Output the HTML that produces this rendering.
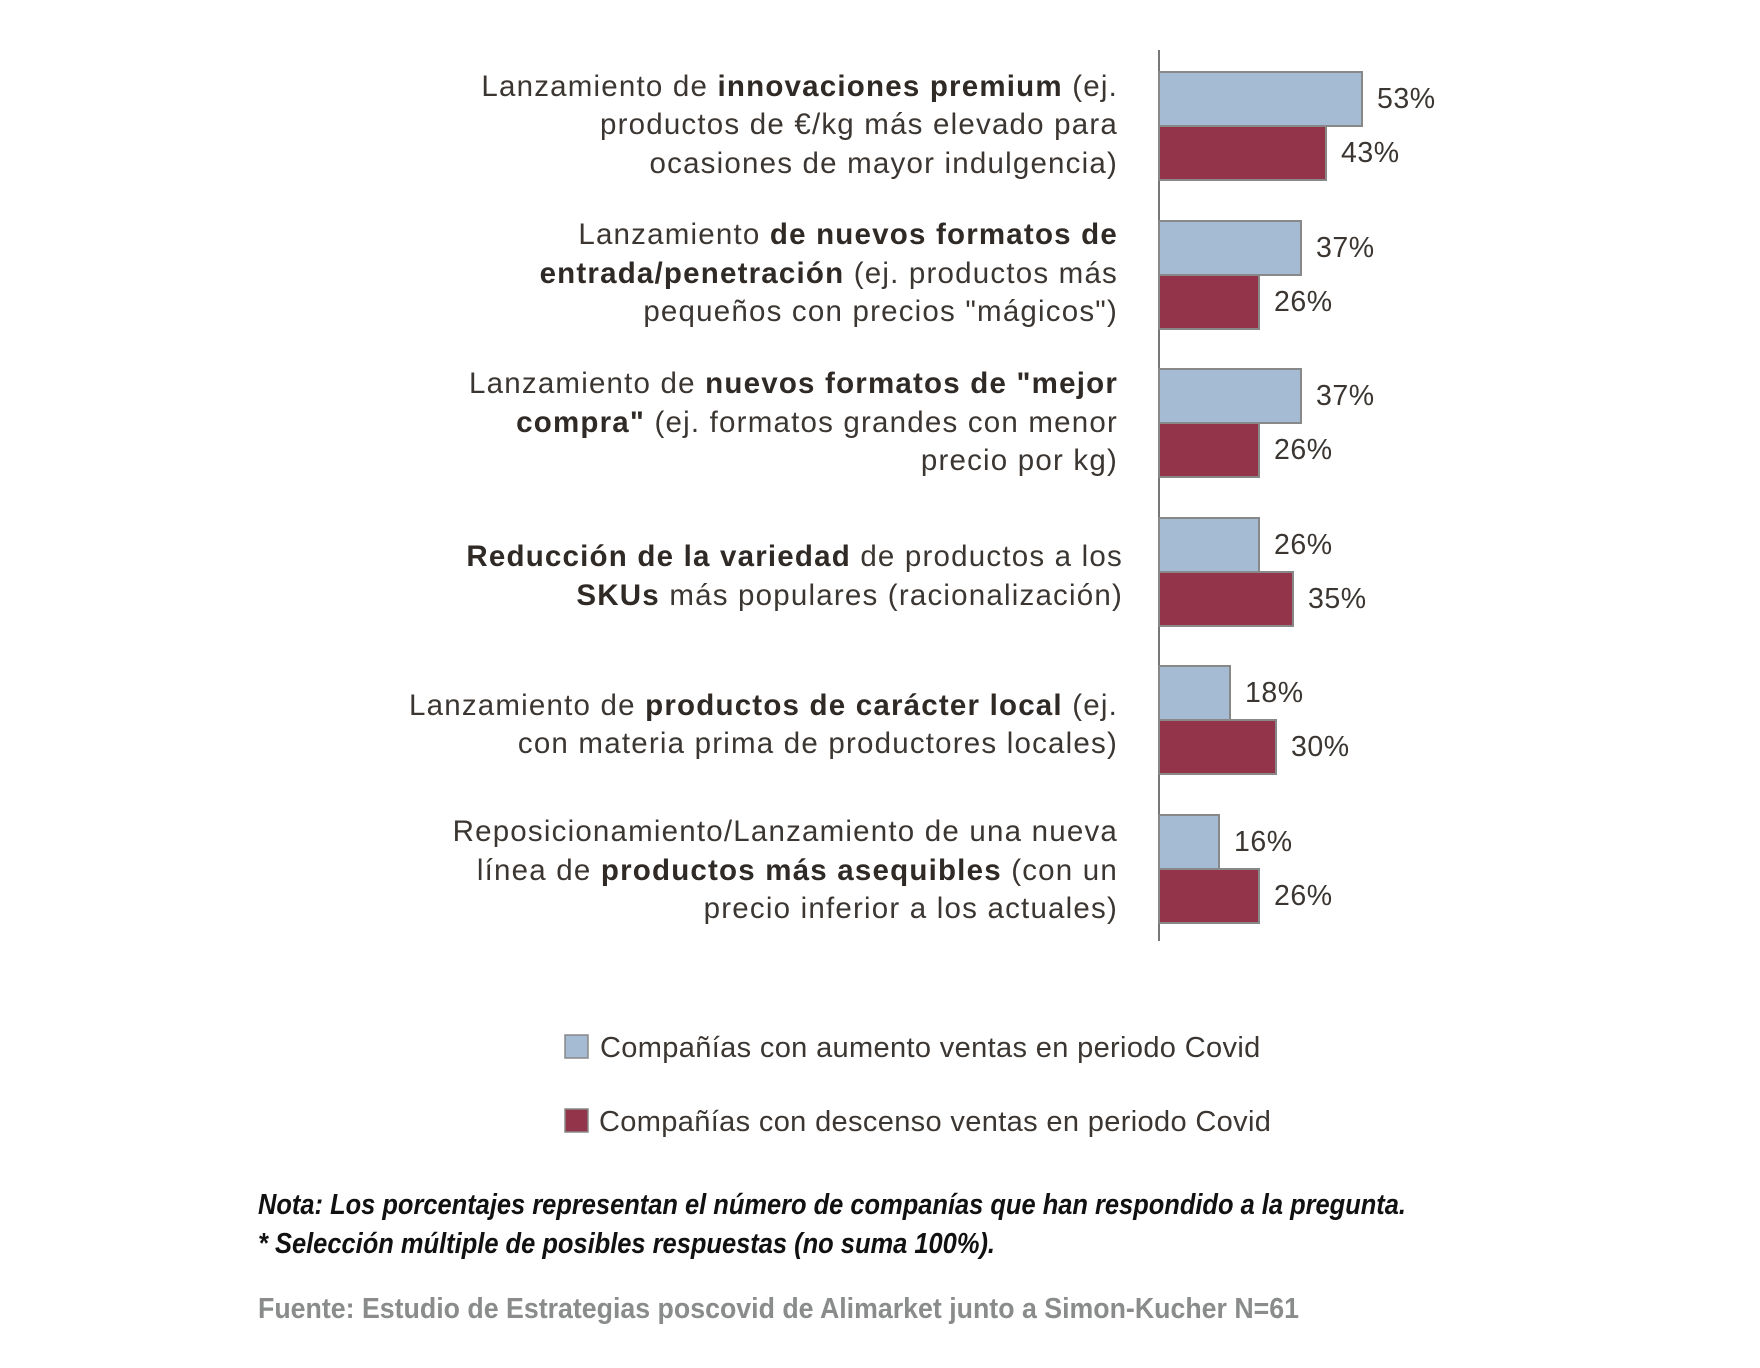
<!DOCTYPE html>
<html><head><meta charset="utf-8"><style>
body{margin:0;background:#fff;width:1760px;height:1368px;overflow:hidden}
svg{display:block}
.c{font-family:"Liberation Sans",Arial,sans-serif;font-size:29.5px;fill:#3b3631;letter-spacing:1.2px}
.b{font-weight:bold;fill:#2f2a26}
.l{font-family:"Liberation Sans",Arial,sans-serif;font-size:29px;fill:#3b3631;letter-spacing:0.35px}
.v{font-family:"Liberation Sans",Arial,sans-serif;font-size:28.5px;fill:#3b3631;letter-spacing:0.5px}
.n{font-family:"Liberation Sans Narrow","Liberation Sans",sans-serif;font-weight:bold;font-style:italic;font-size:29px;fill:#111}
.f{font-family:"Liberation Sans Narrow","Liberation Sans",sans-serif;font-weight:bold;font-size:29px;fill:#8a8c8c}
</style></head><body>
<svg width="1760" height="1368" viewBox="0 0 1760 1368">
<line x1="1159" y1="50" x2="1159" y2="941" stroke="#777" stroke-width="2"/>
<g stroke="#888" stroke-width="2">
<rect x="1159" y="72" width="203" height="54" fill="#a5bbd3"/>
<rect x="1159" y="126" width="167" height="54" fill="#94344a"/>
<rect x="1159" y="221" width="142" height="54" fill="#a5bbd3"/>
<rect x="1159" y="275" width="100" height="54" fill="#94344a"/>
<rect x="1159" y="369" width="142" height="54" fill="#a5bbd3"/>
<rect x="1159" y="423" width="100" height="54" fill="#94344a"/>
<rect x="1159" y="518" width="100" height="54" fill="#a5bbd3"/>
<rect x="1159" y="572" width="134" height="54" fill="#94344a"/>
<rect x="1159" y="666" width="71" height="54" fill="#a5bbd3"/>
<rect x="1159" y="720" width="117" height="54" fill="#94344a"/>
<rect x="1159" y="815" width="60" height="54" fill="#a5bbd3"/>
<rect x="1159" y="869" width="100" height="54" fill="#94344a"/>
</g>
<g class="v">
<text x="1377" y="108">53%</text><text x="1341" y="162">43%</text>
<text x="1316" y="257">37%</text><text x="1274" y="311">26%</text>
<text x="1316" y="405">37%</text><text x="1274" y="459">26%</text>
<text x="1274" y="554">26%</text><text x="1308" y="608">35%</text>
<text x="1245" y="702">18%</text><text x="1291" y="756">30%</text>
<text x="1234" y="851">16%</text><text x="1274" y="905">26%</text>
</g>
<g class="c" text-anchor="end">
<text x="1118" y="96">Lanzamiento de <tspan class="b">innovaciones premium</tspan> (ej.</text>
<text x="1118" y="134">productos de €/kg más elevado para</text>
<text x="1118" y="173">ocasiones de mayor indulgencia)</text>
<text x="1118" y="244">Lanzamiento <tspan class="b">de nuevos formatos de</tspan></text>
<text x="1118" y="283"><tspan class="b">entrada/penetración</tspan> (ej. productos más</text>
<text x="1118" y="321">pequeños con precios "mágicos")</text>
<text x="1118" y="393">Lanzamiento de <tspan class="b">nuevos formatos de "mejor</tspan></text>
<text x="1118" y="432"><tspan class="b">compra"</tspan> (ej. formatos grandes con menor</text>
<text x="1118" y="470">precio por kg)</text>
<text x="1123" y="566"><tspan class="b">Reducción de la variedad</tspan> de productos a los</text>
<text x="1123" y="605"><tspan class="b">SKUs</tspan> más populares (racionalización)</text>
<text x="1118" y="715">Lanzamiento de <tspan class="b">productos de carácter local</tspan> (ej.</text>
<text x="1118" y="753">con materia prima de productores locales)</text>
<text x="1118" y="841">Reposicionamiento/Lanzamiento de una nueva</text>
<text x="1118" y="880">línea de <tspan class="b">productos más asequibles</tspan> (con un</text>
<text x="1118" y="918">precio inferior a los actuales)</text>
</g>
<rect x="565" y="1035" width="23" height="23" fill="#a5bbd3" stroke="#888" stroke-width="1.5"/>
<text class="l" x="600" y="1057">Compañías con aumento ventas en periodo Covid</text>
<rect x="565" y="1109" width="23" height="23" fill="#94344a" stroke="#888" stroke-width="1.5"/>
<text class="l" x="599" y="1131">Compañías con descenso ventas en periodo Covid</text>
<text class="n" x="258" y="1214" textLength="1148" lengthAdjust="spacingAndGlyphs">Nota: Los porcentajes representan el número de companías que han respondido a la pregunta.</text>
<text class="n" x="258" y="1253" textLength="737" lengthAdjust="spacingAndGlyphs">* Selección múltiple de posibles respuestas (no suma 100%).</text>
<text class="f" x="258" y="1318" textLength="1041" lengthAdjust="spacingAndGlyphs">Fuente: Estudio de Estrategias poscovid de Alimarket junto a Simon-Kucher N=61</text>
</svg>
</body></html>
